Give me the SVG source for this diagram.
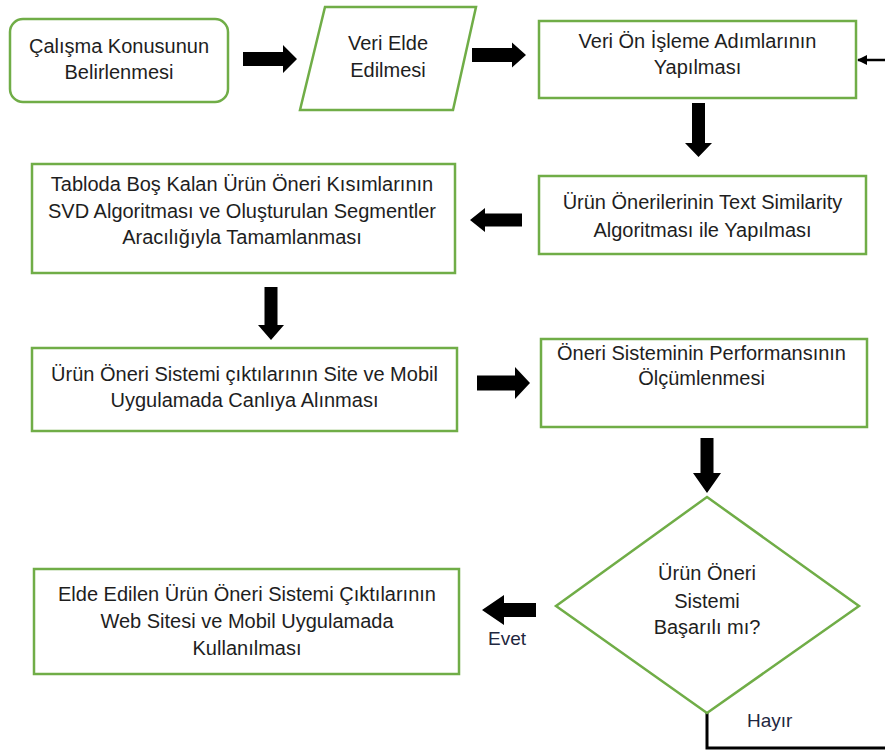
<svg xmlns="http://www.w3.org/2000/svg" width="885" height="751" viewBox="0 0 885 751">
<defs>
<style>
.box{fill:#ffffff;stroke:#70AD47;stroke-width:2.5}
.t{font-family:"Liberation Sans",Arial,sans-serif;font-size:20px;fill:#1e1e1e;text-anchor:middle}
.lbl{font-family:"Liberation Sans",Arial,sans-serif;font-size:19px;fill:#1f2740}
.blk{fill:#000000}
.ln{fill:none;stroke:#000000;stroke-width:3}
</style>
<marker id="ah" viewBox="0 0 10 10" refX="9" refY="5" markerWidth="4" markerHeight="4" orient="auto">
<path d="M0,0 L10,5 L0,10 Z" fill="#000"/>
</marker>
</defs>
<rect width="885" height="751" fill="#ffffff"/>
<g id="connectors">
<polygon class="blk" points="243,52 283,52 283,45 297,59 283,73 283,66 243,66"/>
<polygon class="blk" points="472,48 512,48 512,42.5 526,55 512,67.5 512,62 472,62"/>
<polygon class="blk" points="692,103 705,103 705,143 712,143 698.5,157 685,143 692,143"/>
<polygon class="blk" points="522,213.5 485,213.5 485,208 470,220 485,232 485,226.5 522,226.5"/>
<polygon class="blk" points="264.5,287 277.5,287 277.5,325 284,325 271,340 258,325 264.5,325"/>
<polygon class="blk" points="477,375.5 515,375.5 515,367 530,383 515,399 515,390.5 477,390.5"/>
<polygon class="blk" points="700.5,438 713.5,438 713.5,473 721,473 707,493 693,473 700.5,473"/>
<polygon class="blk" points="536,603 504,603 504,595 482,610 504,625 504,617 536,617"/>
<polyline class="ln" points="707,713 707,748 885,748"/>
<line x1="885" y1="60" x2="858" y2="60" stroke="#000" stroke-width="2.5" marker-end="url(#ah)"/>
<text class="lbl" x="747" y="727">Hayır</text>
<text class="lbl" x="507" y="645" text-anchor="middle">Evet</text>
</g>
<g id="n1">
<rect class="box" x="10" y="19" width="218" height="83" rx="13"/>
<text class="t" x="119" y="53">Çalışma Konusunun</text>
<text class="t" x="119" y="79">Belirlenmesi</text>
</g>
<g id="n2">
<polygon class="box" points="325,7 476,7 453,110 300,110"/>
<text class="t" x="388" y="50">Veri Elde</text>
<text class="t" x="388" y="77">Edilmesi</text>
</g>
<g id="n3">
<rect class="box" x="539" y="21" width="317" height="77"/>
<text class="t" x="697.5" y="48">Veri Ön İşleme Adımlarının</text>
<text class="t" x="697.5" y="74">Yapılması</text>
</g>
<g id="n4">
<rect class="box" x="539" y="176" width="327" height="78"/>
<text class="t" x="702.5" y="209">Ürün Önerilerinin Text Similarity</text>
<text class="t" x="702.5" y="237">Algoritması ile Yapılması</text>
</g>
<g id="n5">
<rect class="box" x="32" y="164" width="423" height="109"/>
<text class="t" x="242" y="191">Tabloda Boş Kalan Ürün Öneri Kısımlarının</text>
<text class="t" x="242" y="218">SVD Algoritması ve Oluşturulan Segmentler</text>
<text class="t" x="242" y="244">Aracılığıyla Tamamlanması</text>
</g>
<g id="n6">
<rect class="box" x="32" y="348" width="425" height="83"/>
<text class="t" x="244.5" y="381">Ürün Öneri Sistemi çıktılarının Site ve Mobil</text>
<text class="t" x="244.5" y="407">Uygulamada Canlıya Alınması</text>
</g>
<g id="n7">
<rect class="box" x="541" y="339" width="326" height="88"/>
<text class="t" x="701.5" y="360">Öneri Sisteminin Performansının</text>
<text class="t" x="701.5" y="385">Ölçümlenmesi</text>
</g>
<g id="n8">
<polygon class="box" points="707,497 859,606 707,713 556,606"/>
<text class="t" x="707" y="580">Ürün Öneri</text>
<text class="t" x="707" y="608">Sistemi</text>
<text class="t" x="707" y="634">Başarılı mı?</text>
</g>
<g id="n9">
<rect class="box" x="34" y="569" width="425" height="105"/>
<text class="t" x="247" y="601">Elde Edilen Ürün Öneri Sistemi Çıktılarının</text>
<text class="t" x="247" y="628">Web Sitesi ve Mobil Uygulamada</text>
<text class="t" x="247" y="655">Kullanılması</text>
</g>
</svg>
